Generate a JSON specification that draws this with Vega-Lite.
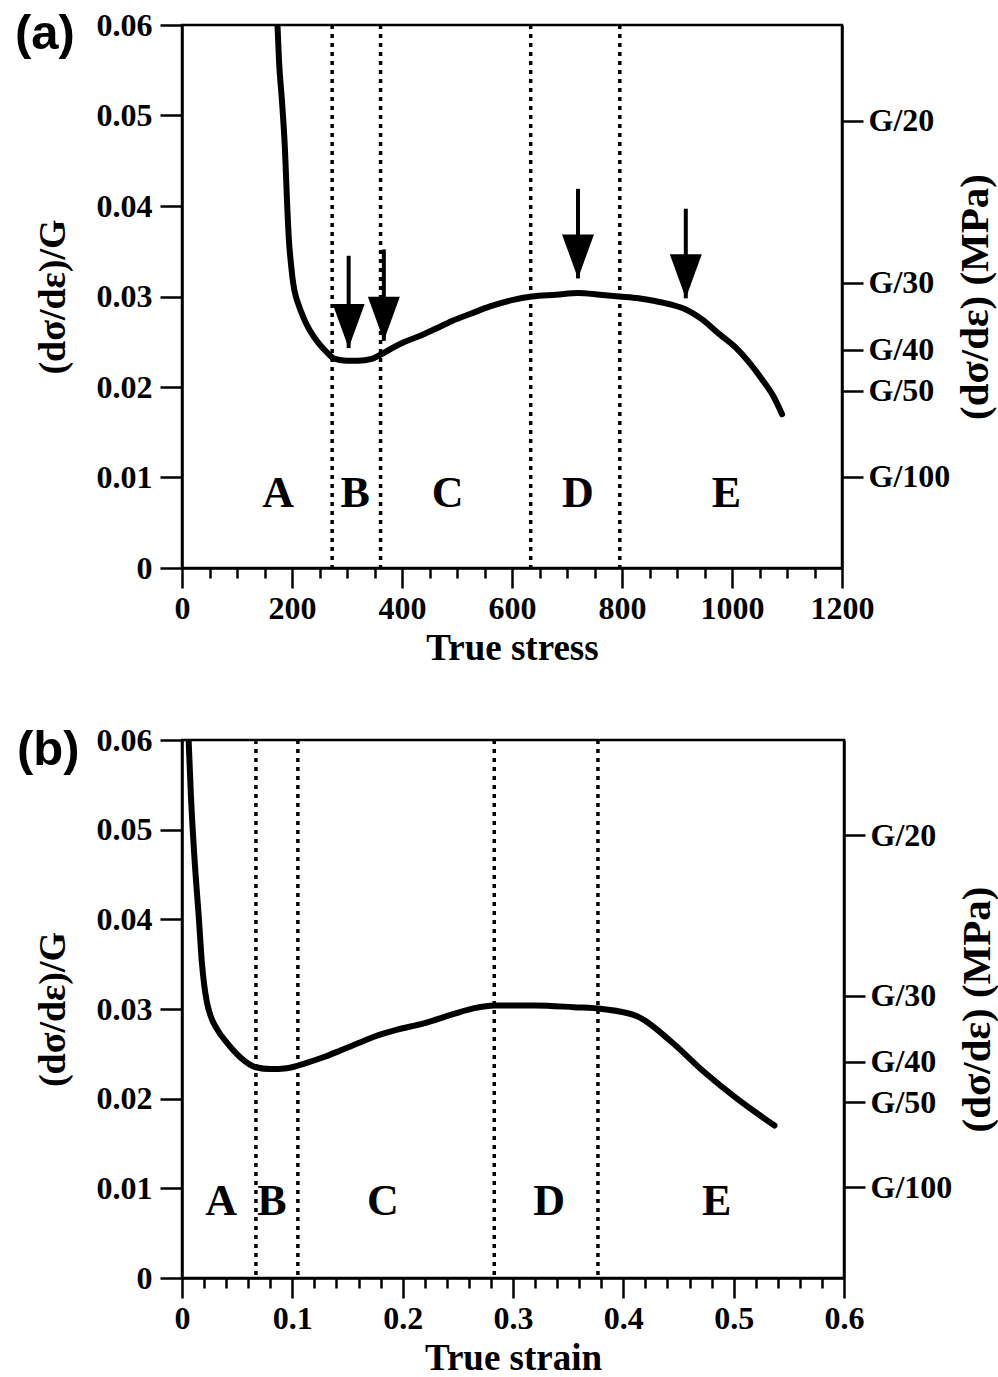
{
  "$schema": "https://vega.github.io/schema/vega-lite/v6.json",
  "background": "white",
  "padding": {"left": 13, "top": 7, "right": 0, "bottom": 0},
  "spacing": 54,
  "config": {
    "view": {"stroke": "black", "strokeWidth": 2.5},
    "font": "Liberation Serif",
    "axis": {
      "grid": false,
      "domainColor": "black",
      "domainWidth": 2.5,
      "tickColor": "black",
      "tickWidth": 2.5,
      "labelFont": "Liberation Serif",
      "labelFontWeight": "bold",
      "labelFontSize": 32,
      "labelColor": "black",
      "labelOverlap": false,
      "labelFlush": false,
      "titleFont": "Liberation Serif",
      "titleFontWeight": "bold",
      "titleFontSize": 37,
      "titleColor": "black"
    }
  },
  "datasets": {
    "curveA": [
      {"stress": 173.6, "value": 0.0600}, {"stress": 176.4, "value": 0.0560}, {"stress": 181.8, "value": 0.0516},
      {"stress": 187.3, "value": 0.0461}, {"stress": 190.9, "value": 0.0406}, {"stress": 194.5, "value": 0.0361},
      {"stress": 198, "value": 0.0337}, {"stress": 201, "value": 0.0320}, {"stress": 204, "value": 0.0308},
      {"stress": 208, "value": 0.0298}, {"stress": 213, "value": 0.0289}, {"stress": 218, "value": 0.0281},
      {"stress": 225, "value": 0.0271}, {"stress": 233, "value": 0.0262}, {"stress": 249, "value": 0.0248},
      {"stress": 264, "value": 0.0238}, {"stress": 278, "value": 0.0231}, {"stress": 300, "value": 0.0229},
      {"stress": 320, "value": 0.0229}, {"stress": 345, "value": 0.0231}, {"stress": 362, "value": 0.0236},
      {"stress": 382, "value": 0.0243}, {"stress": 405, "value": 0.0250}, {"stress": 431, "value": 0.0256},
      {"stress": 460, "value": 0.0264}, {"stress": 491, "value": 0.0273}, {"stress": 525, "value": 0.0281},
      {"stress": 560, "value": 0.0289}, {"stress": 600, "value": 0.0296}, {"stress": 636, "value": 0.0300},
      {"stress": 680, "value": 0.0302}, {"stress": 720, "value": 0.0304}, {"stress": 760, "value": 0.0302},
      {"stress": 795, "value": 0.0300}, {"stress": 830, "value": 0.0298}, {"stress": 860, "value": 0.0295},
      {"stress": 890, "value": 0.0291}, {"stress": 915, "value": 0.0286}, {"stress": 945, "value": 0.0275},
      {"stress": 976, "value": 0.0259}, {"stress": 1006, "value": 0.0244}, {"stress": 1030, "value": 0.0228},
      {"stress": 1055, "value": 0.0208}, {"stress": 1075, "value": 0.0190}, {"stress": 1091, "value": 0.0170}
    ],
    "curveB": [
      {"strain": 0.006, "value": 0.0600}, {"strain": 0.008, "value": 0.0540}, {"strain": 0.011, "value": 0.0474},
      {"strain": 0.0154, "value": 0.0399}, {"strain": 0.018, "value": 0.0352}, {"strain": 0.020, "value": 0.0328},
      {"strain": 0.0225, "value": 0.0308}, {"strain": 0.026, "value": 0.0292}, {"strain": 0.032, "value": 0.0277},
      {"strain": 0.041, "value": 0.0262}, {"strain": 0.053, "value": 0.0246}, {"strain": 0.067, "value": 0.0235},
      {"strain": 0.080, "value": 0.0233}, {"strain": 0.095, "value": 0.0234}, {"strain": 0.113, "value": 0.0240},
      {"strain": 0.130, "value": 0.0247}, {"strain": 0.144, "value": 0.0254}, {"strain": 0.160, "value": 0.0262},
      {"strain": 0.174, "value": 0.0269}, {"strain": 0.195, "value": 0.0277}, {"strain": 0.219, "value": 0.0284},
      {"strain": 0.245, "value": 0.0294}, {"strain": 0.265, "value": 0.0301}, {"strain": 0.283, "value": 0.0304},
      {"strain": 0.320, "value": 0.0304}, {"strain": 0.355, "value": 0.0302}, {"strain": 0.381, "value": 0.0300},
      {"strain": 0.4125, "value": 0.0292}, {"strain": 0.443, "value": 0.0264}, {"strain": 0.473, "value": 0.0230},
      {"strain": 0.503, "value": 0.0200}, {"strain": 0.537, "value": 0.0170}
    ],
    "dividersA": [{"stress": 273}, {"stress": 361}, {"stress": 634}, {"stress": 796}],
    "dividersB": [{"strain": 0.067}, {"strain": 0.105}, {"strain": 0.283}, {"strain": 0.377}],
    "regionsA": [
      {"stress": 175, "value": 0.0082, "region": "A"}, {"stress": 315, "value": 0.0082, "region": "B"},
      {"stress": 483, "value": 0.0082, "region": "C"}, {"stress": 720, "value": 0.0082, "region": "D"},
      {"stress": 990, "value": 0.0082, "region": "E"}
    ],
    "regionsB": [
      {"strain": 0.0354, "value": 0.0085, "region": "A"}, {"strain": 0.0816, "value": 0.0085, "region": "B"},
      {"strain": 0.182, "value": 0.0085, "region": "C"}, {"strain": 0.3327, "value": 0.0085, "region": "D"},
      {"strain": 0.4846, "value": 0.0085, "region": "E"}
    ],
    "arrowsA": [
      {"stress": 303, "top": 0.0345, "tip": 0.0243},
      {"stress": 367, "top": 0.0352, "tip": 0.0251},
      {"stress": 720, "top": 0.0419, "tip": 0.0320},
      {"stress": 916, "top": 0.0397, "tip": 0.0298}
    ]
  },
  "vconcat": [
    {
      "width": 660,
      "height": 543,
      "title": {"text": "(a)", "anchor": "start", "frame": "group", "align": "left", "baseline": "top", "dx": -167, "dy": 50, "offset": 0, "font": "Liberation Sans", "fontSize": 49, "fontWeight": "bold", "color": "black"},
      "resolve": {"axis": {"x": "independent", "y": "independent"}},
      "layer": [
        {
          "data": {"name": "dividersA"},
          "mark": {"type": "rule", "color": "black", "strokeWidth": 3.5, "strokeDash": [4, 5]},
          "encoding": {
            "x": {
              "field": "stress", "type": "quantitative",
              "axis": {"orient": "bottom", "values": [50, 100, 150, 250, 300, 350, 450, 500, 550, 650, 700, 750, 850, 900, 950, 1050, 1100, 1150], "tickSize": 10, "labels": false, "domain": false, "title": null}
            }
          }
        },
        {
          "data": {"name": "curveA"},
          "mark": {"type": "line", "color": "black", "strokeWidth": 6, "interpolate": "monotone", "strokeCap": "round", "clip": true},
          "encoding": {
            "x": {
              "field": "stress", "type": "quantitative",
              "scale": {"domain": [0, 1200], "nice": false},
              "axis": {"orient": "bottom", "title": "True stress", "values": [0, 200, 400, 600, 800, 1000, 1200], "labelExpr": "format(datum.value, 'd')", "tickSize": 20, "labelPadding": 5, "titlePadding": 6}
            },
            "y": {
              "field": "value", "type": "quantitative",
              "scale": {"domain": [0, 0.06], "nice": false},
              "axis": {
                "title": "(dσ/dε)/G",
                "titleFontSize": 38,
                "values": [0, 0.01, 0.02, 0.03, 0.04, 0.05, 0.06],
                "labelExpr": "datum.value === 0 ? '0' : format(datum.value, '.2f')",
                "tickSize": 22,
                "labelPadding": 8,
                "titlePadding": 24
              }
            }
          }
        },
        {
          "data": {"name": "regionsA"},
          "mark": {"type": "text", "font": "Liberation Serif", "fontWeight": "bold", "fontSize": 44, "color": "black", "baseline": "middle", "align": "center"},
          "encoding": {
            "x": {"field": "stress", "type": "quantitative", "axis": null},
            "y": {
              "field": "value", "type": "quantitative",
              "axis": {
                "orient": "right",
                "title": "(dσ/dε) (MPa)",
                "titleFontSize": 41,
                "titleAngle": 270,
                "titleBaseline": "top",
                "values": [0.0494, 0.0315, 0.0241, 0.0196, 0.0101],
                "labelExpr": "datum.value > 0.04 ? 'G/20' : datum.value > 0.028 ? 'G/30' : datum.value > 0.022 ? 'G/40' : datum.value > 0.015 ? 'G/50' : 'G/100'",
                "tickSize": 21,
                "labelPadding": 5,
                "titlePadding": 6
              }
            },
            "text": {"field": "region"}
          }
        },
        {
          "data": {"name": "arrowsA"},
          "mark": {"type": "rule", "color": "black", "strokeWidth": 4},
          "encoding": {
            "x": {"field": "stress", "type": "quantitative", "axis": null},
            "y": {"field": "top", "type": "quantitative", "axis": null},
            "y2": {"field": "tip"}
          }
        },
        {
          "data": {"name": "arrowsA"},
          "mark": {"type": "point", "filled": true, "color": "black", "opacity": 1, "size": 1936, "shape": "M -0.727 -2 L 0.727 -2 L 0 0 Z"},
          "encoding": {
            "x": {"field": "stress", "type": "quantitative", "axis": null},
            "y": {"field": "tip", "type": "quantitative", "axis": null}
          }
        }
      ]
    },
    {
      "width": 662,
      "height": 538,
      "title": {"text": "(b)", "anchor": "start", "frame": "group", "align": "left", "baseline": "top", "dx": -165, "dy": 51, "offset": 0, "font": "Liberation Sans", "fontSize": 49, "fontWeight": "bold", "color": "black"},
      "resolve": {"axis": {"x": "independent", "y": "independent"}},
      "layer": [
        {
          "data": {"name": "dividersB"},
          "mark": {"type": "rule", "color": "black", "strokeWidth": 3.5, "strokeDash": [4, 5]},
          "encoding": {
            "x": {
              "field": "strain", "type": "quantitative",
              "axis": {"orient": "bottom", "values": [0.02, 0.04, 0.06, 0.08, 0.12, 0.14, 0.16, 0.18, 0.22, 0.24, 0.26, 0.28, 0.32, 0.34, 0.36, 0.38, 0.42, 0.44, 0.46, 0.48, 0.52, 0.54, 0.56, 0.58], "tickSize": 10, "labels": false, "domain": false, "title": null}
            }
          }
        },
        {
          "data": {"name": "curveB"},
          "mark": {"type": "line", "color": "black", "strokeWidth": 6, "interpolate": "monotone", "strokeCap": "round", "clip": true},
          "encoding": {
            "x": {
              "field": "strain", "type": "quantitative",
              "scale": {"domain": [0, 0.6], "nice": false},
              "axis": {"orient": "bottom", "title": "True strain", "values": [0, 0.1, 0.2, 0.3, 0.4, 0.5, 0.6], "labelExpr": "datum.value === 0 ? '0' : format(datum.value, '.1f')", "tickSize": 20, "labelPadding": 5, "titlePadding": 6}
            },
            "y": {
              "field": "value", "type": "quantitative",
              "scale": {"domain": [0, 0.06], "nice": false},
              "axis": {
                "title": "(dσ/dε)/G",
                "titleFontSize": 38,
                "values": [0, 0.01, 0.02, 0.03, 0.04, 0.05, 0.06],
                "labelExpr": "datum.value === 0 ? '0' : format(datum.value, '.2f')",
                "tickSize": 22,
                "labelPadding": 8,
                "titlePadding": 24
              }
            }
          }
        },
        {
          "data": {"name": "regionsB"},
          "mark": {"type": "text", "font": "Liberation Serif", "fontWeight": "bold", "fontSize": 44, "color": "black", "baseline": "middle", "align": "center"},
          "encoding": {
            "x": {"field": "strain", "type": "quantitative", "axis": null},
            "y": {
              "field": "value", "type": "quantitative",
              "axis": {
                "orient": "right",
                "title": "(dσ/dε) (MPa)",
                "titleFontSize": 41,
                "titleAngle": 270,
                "titleBaseline": "top",
                "values": [0.0494, 0.0315, 0.0241, 0.0196, 0.0101],
                "labelExpr": "datum.value > 0.04 ? 'G/20' : datum.value > 0.028 ? 'G/30' : datum.value > 0.022 ? 'G/40' : datum.value > 0.015 ? 'G/50' : 'G/100'",
                "tickSize": 21,
                "labelPadding": 5,
                "titlePadding": 6
              }
            },
            "text": {"field": "region"}
          }
        }
      ]
    }
  ]
}
